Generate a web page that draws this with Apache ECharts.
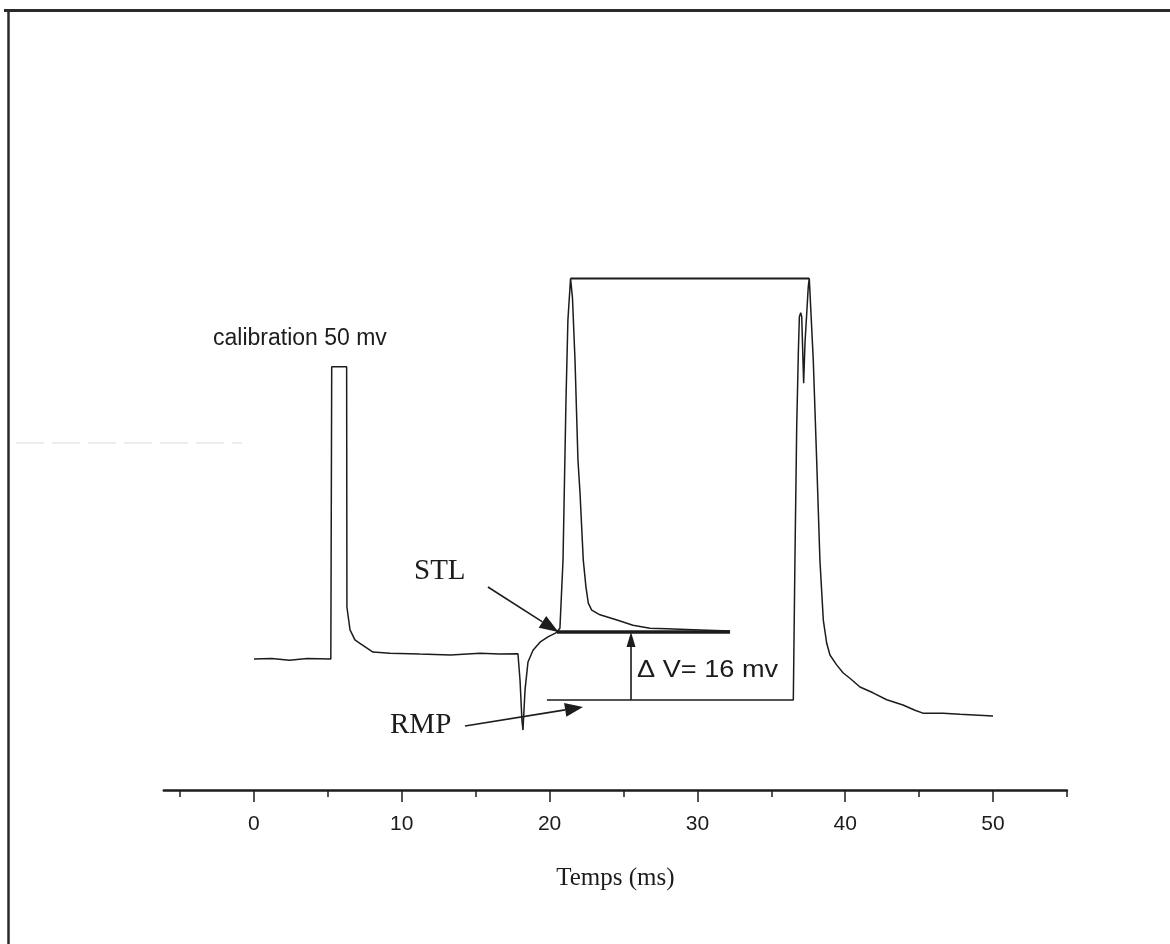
<!DOCTYPE html>
<html>
<head>
<meta charset="utf-8">
<script src="https://cdn.jsdelivr.net/npm/echarts@6/dist/echarts.min.js"></script>
<style>
  html, body { margin: 0; padding: 0; background: #fff; }
  #chart { width: 1170px; height: 944px; }
</style>
</head>
<body>
<div id="chart"></div>
<script>
// ---- Data (time in ms, potential in mV relative to initial baseline) ----
const majorTicks = [0, 10, 20, 30, 40, 50];
const minorTicks = [-5, 5, 15, 25, 35, 45, 55];

// Main trace: baseline, 50 mV calibration pulse, stimulus artefact, spike 1, decay
const trace1T = [0, 1.2, 2.4, 3.6, 5.2, 5.26, 6.27, 6.29, 6.5, 6.83, 7.17, 8.05, 9.2, 11.2, 13.3, 15.3, 16.6, 17.86,
  18.0, 18.13, 18.2, 18.34, 18.54, 18.88, 19.35, 19.89, 20.43, 20.7, 20.91, 21.11, 21.24, 21.42,
  21.55, 21.72, 21.92, 22.06, 22.28, 22.46, 22.62, 22.85, 23.41, 24.56, 25.64, 26.79, 27.94, 30.18, 32.21];
const trace1V = [0, 0.1, -0.2, 0.1, 0, 50.2, 50.2, 8.9, 5.0, 3.3, 2.7, 1.2, 1.0, 0.85, 0.7, 1.0, 0.85, 0.9,
  -3.6, -10.5, -12.2, -5.3, -0.5, 1.5, 2.9, 3.8, 4.5, 5.3, 17.0, 44.5, 58.2, 65.4,
  62.0, 51.4, 34.2, 28.5, 17.0, 12.4, 9.6, 8.4, 7.6, 6.7, 5.8, 5.3, 5.2, 5.0, 4.8];

// Top connecting line between the two spike peaks
const topT = [21.42, 37.57];
const topV = [65.4, 65.4];

// Second trace: RMP level, rise, double peak, spike 2 and its decay
const trace2T = [19.82, 36.49, 36.6, 36.72, 36.83, 36.9, 36.99, 37.06, 37.13, 37.19, 37.28, 37.4, 37.5, 37.57,
  37.84, 38.07, 38.29, 38.52, 38.75, 38.97, 39.42, 39.87, 40.32, 41.0, 41.88, 42.81, 43.91, 44.72, 45.26, 46.62, 47.77, 50.0];
const trace2V = [-7.04, -7.04, 17.0, 39.9, 52.6, 58.8, 59.5, 58.8, 52.6, 47.4, 54.3, 59.5, 63.9, 65.4,
  51.4, 34.2, 17.0, 6.7, 2.7, 0.7, -1.0, -2.4, -3.3, -4.8, -5.8, -7.0, -7.9, -8.8, -9.3, -9.3, -9.5, -9.8];

// Threshold level (STL) thick line
const stlT = [20.5, 32.21];
const stlV = [4.64, 4.64];

// Annotation arrows: [tFrom, vFrom, tTo, vTo]
const arrowSTL = [15.83, 12.37, 20.6, 4.64];
const arrowRMP = [14.28, -11.5, 22.26, -8.25];
const arrowDV = [25.51, -7.04, 25.51, 4.64];

// ---- Chart ----
const zip = (a, b) => a.map((v, i) => [v, b[i]]);
const ink = '#1c1c1c';
const chart = echarts.init(document.getElementById('chart'), null, { renderer: 'canvas' });

const headSizes = [[19, 14], [18, 14], [15, 9]];

const option = {
  animation: false,
  backgroundColor: '#ffffff',
  grid: { left: 163.8, right: 103.1, top: 193.4, bottom: 154 },
  xAxis: [
    {
      type: 'value', min: -6.1, max: 55, position: 'bottom',
      name: 'Temps (ms)', nameLocation: 'middle', nameGap: 76,
      nameTextStyle: { fontFamily: '"Liberation Serif", "Times New Roman", serif', fontSize: 25, color: ink },
      axisLine: { show: true, onZero: false, lineStyle: { color: ink, width: 2.5 } },
      axisTick: { show: true, customValues: majorTicks, length: 12, lineStyle: { color: ink, width: 1.5 } },
      axisLabel: { show: true, customValues: majorTicks, margin: 24, fontFamily: '"Liberation Sans", Arial, sans-serif', fontSize: 21, color: ink },
      splitLine: { show: false }
    },
    {
      type: 'value', min: -6.1, max: 55, position: 'bottom', offset: 0,
      axisLine: { show: false, onZero: false },
      axisTick: { show: true, customValues: minorTicks, length: 7, lineStyle: { color: ink, width: 1.5 } },
      axisLabel: { show: false },
      splitLine: { show: false }
    }
  ],
  yAxis: { type: 'value', min: -22.5, max: 80, show: false },
  series: [
    { type: 'line', data: zip(trace1T, trace1V), showSymbol: false, lineStyle: { color: ink, width: 1.5 }, silent: true },
    { type: 'line', data: zip(topT, topV), showSymbol: false, lineStyle: { color: ink, width: 2 }, silent: true },
    { type: 'line', data: zip(trace2T, trace2V), showSymbol: false, lineStyle: { color: ink, width: 1.5 }, silent: true },
    { type: 'line', data: zip(stlT, stlV), showSymbol: false, lineStyle: { color: ink, width: 3.5 }, silent: true },
    {
      type: 'custom', silent: true, clip: false,
      data: [arrowSTL, arrowRMP, arrowDV],
      renderItem: function (params, api) {
        const p1 = api.coord([api.value(0), api.value(1)]);
        const p2 = api.coord([api.value(2), api.value(3)]);
        const dx = p2[0] - p1[0], dy = p2[1] - p1[1];
        const len = Math.sqrt(dx * dx + dy * dy);
        const ux = dx / len, uy = dy / len;
        const hs = headSizes[params.dataIndex];
        const L = hs[0], W = hs[1];
        const bx = p2[0] - ux * L, by = p2[1] - uy * L;
        const px = -uy, py = ux;
        return {
          type: 'group',
          children: [
            { type: 'line', shape: { x1: p1[0], y1: p1[1], x2: bx, y2: by }, style: { stroke: ink, lineWidth: 1.6 } },
            { type: 'polygon', shape: { points: [[p2[0], p2[1]], [bx + px * W / 2, by + py * W / 2], [bx - px * W / 2, by - py * W / 2]] }, style: { fill: ink } }
          ]
        };
      }
    }
  ],
  graphic: [
    { type: 'line', shape: { x1: 4, y1: 10.5, x2: 1170, y2: 10.5 }, style: { stroke: '#2a2a2a', lineWidth: 3 } },
    { type: 'line', shape: { x1: 8.5, y1: 9, x2: 8.5, y2: 944 }, style: { stroke: '#2a2a2a', lineWidth: 2.5 } },
    { type: 'line', shape: { x1: 16, y1: 443, x2: 242, y2: 443 }, style: { stroke: '#ececec', lineWidth: 2, lineDash: [28, 8] } },
    { type: 'text', x: 213, y: 339, style: { text: 'calibration 50 mv', font: '23px "Liberation Sans", Arial, sans-serif', fill: ink, textAlign: 'left', textVerticalAlign: 'middle', align: 'left', verticalAlign: 'middle' } },
    { type: 'text', x: 414, y: 571, style: { text: 'STL', font: '29px "Liberation Serif", "Times New Roman", serif', fill: ink, textAlign: 'left', textVerticalAlign: 'middle', align: 'left', verticalAlign: 'middle' } },
    { type: 'text', x: 390, y: 725, style: { text: 'RMP', font: '29px "Liberation Serif", "Times New Roman", serif', fill: ink, textAlign: 'left', textVerticalAlign: 'middle', align: 'left', verticalAlign: 'middle' } },
    { type: 'text', x: 637, y: 671, scaleX: 1.18, style: { text: '\u0394 V= 16 mv', font: '23px "Liberation Sans", Arial, sans-serif', fill: ink, textAlign: 'left', textVerticalAlign: 'middle', align: 'left', verticalAlign: 'middle' } }
  ]
};
chart.setOption(option);
</script>
</body>
</html>
